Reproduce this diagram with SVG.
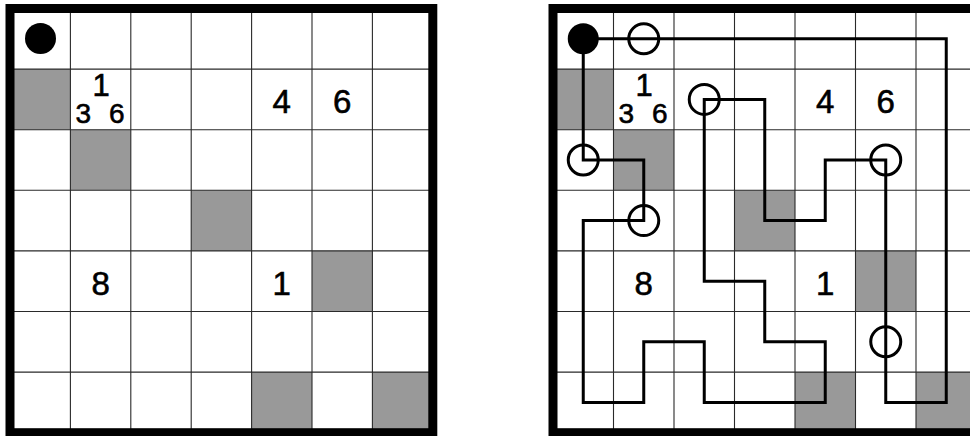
<svg xmlns="http://www.w3.org/2000/svg" width="970" height="436" viewBox="0 0 970 436">
<style>
.bg{fill:#fff}
.gray{fill:#999}
.grid{fill:none;stroke:#2a2a2a;stroke-width:1.1}
.border{fill:none;stroke:#000;stroke-width:9}
text{font-family:"Liberation Sans",Arial,sans-serif;fill:#000;stroke:#000;stroke-width:0.6;text-anchor:middle}
text.pair{text-anchor:start;font-size:28px}
.dot{fill:#000}
.ring{fill:none;stroke:#000;stroke-width:3}
.loop{fill:none;stroke:#000;stroke-width:3;stroke-linejoin:miter}
</style>
<rect width="970" height="436" fill="#fff"/>

<!-- Left puzzle -->
<g id="left-grid">
  <rect class="bg" x="10" y="8.5" width="422.8" height="424.2"/>
  <rect class="gray" x="10" y="69.1" width="60.4" height="60.6"/>
  <rect class="gray" x="70.4" y="129.7" width="60.4" height="60.6"/>
  <rect class="gray" x="191.2" y="190.3" width="60.4" height="60.6"/>
  <rect class="gray" x="312" y="250.9" width="60.4" height="60.6"/>
  <rect class="gray" x="251.6" y="372.1" width="60.4" height="60.6"/>
  <rect class="gray" x="372.4" y="372.1" width="60.4" height="60.6"/>
  <path class="grid" d="M70.4 8.5V432.7M130.8 8.5V432.7M191.2 8.5V432.7M251.6 8.5V432.7M312 8.5V432.7M372.4 8.5V432.7M10 69.1H432.8M10 129.7H432.8M10 190.3H432.8M10 250.9H432.8M10 311.5H432.8M10 372.1H432.8"/>
  <rect class="border" x="10" y="8.5" width="422.8" height="424.2"/>
</g>
<g id="left-start"><circle class="dot" cx="40.5" cy="38.5" r="15.5"/></g>
<g id="left-clue-r1c1">
  <text x="101" y="96" font-size="31">1</text>
  <text class="pair"><tspan x="75.5" y="123">3</tspan> <tspan x="109" y="123">6</tspan></text>
</g>
<g id="left-clue-r1c4"><text x="281.8" y="113" font-size="33">4</text></g>
<g id="left-clue-r1c5"><text x="342.2" y="113" font-size="33">6</text></g>
<g id="left-clue-r4c1"><text x="100.6" y="294.5" font-size="33">8</text></g>
<g id="left-clue-r4c4"><text x="281.8" y="294.5" font-size="33">1</text></g>

<!-- Right puzzle (solution) -->
<g id="right-grid">
  <rect class="bg" x="553" y="8.5" width="423.5" height="424.2"/>
  <rect class="gray" x="553" y="69.1" width="60.5" height="60.6"/>
  <rect class="gray" x="613.5" y="129.7" width="60.5" height="60.6"/>
  <rect class="gray" x="734.5" y="190.3" width="60.5" height="60.6"/>
  <rect class="gray" x="855.5" y="250.9" width="60.5" height="60.6"/>
  <rect class="gray" x="795" y="372.1" width="60.5" height="60.6"/>
  <rect class="gray" x="916" y="372.1" width="60.5" height="60.6"/>
  <path class="grid" d="M613.5 8.5V432.7M674 8.5V432.7M734.5 8.5V432.7M795 8.5V432.7M855.5 8.5V432.7M916 8.5V432.7M553 69.1H976.5M553 129.7H976.5M553 190.3H976.5M553 250.9H976.5M553 311.5H976.5M553 372.1H976.5"/>
  <rect class="border" x="553" y="8.5" width="423.5" height="424.2"/>
</g>
<g id="right-clue-r1c1">
  <text x="644" y="96" font-size="31">1</text>
  <text class="pair"><tspan x="618.5" y="123">3</tspan> <tspan x="652" y="123">6</tspan></text>
</g>
<g id="right-clue-r1c4"><text x="825.25" y="113" font-size="33">4</text></g>
<g id="right-clue-r1c5"><text x="885.75" y="113" font-size="33">6</text></g>
<g id="right-clue-r4c1"><text x="643.75" y="294.5" font-size="33">8</text></g>
<g id="right-clue-r4c4"><text x="825.25" y="294.5" font-size="33">1</text></g>

<g id="connectors">
  <path class="loop" d="M583.25 38.8H946.25V402.4H885.75V160H825.25V220.6H764.75V99.4H704.25V281.2H764.75V341.8H825.25V402.4H704.25V341.8H643.75V402.4H583.25V220.6H643.75V160H583.25Z"/>
</g>

<g id="right-start"><circle class="dot" cx="583.25" cy="38.8" r="15.5"/></g>
<g id="ring-r0c1"><circle class="ring" cx="643.75" cy="38.8" r="15"/></g>
<g id="ring-r1c2"><circle class="ring" cx="704.25" cy="99.4" r="15"/></g>
<g id="ring-r2c0"><circle class="ring" cx="583.25" cy="160" r="15"/></g>
<g id="ring-r3c1"><circle class="ring" cx="643.75" cy="220.6" r="15"/></g>
<g id="ring-r2c5"><circle class="ring" cx="885.75" cy="160" r="15"/></g>
<g id="ring-r5c5"><circle class="ring" cx="885.75" cy="341.8" r="15"/></g>
</svg>
